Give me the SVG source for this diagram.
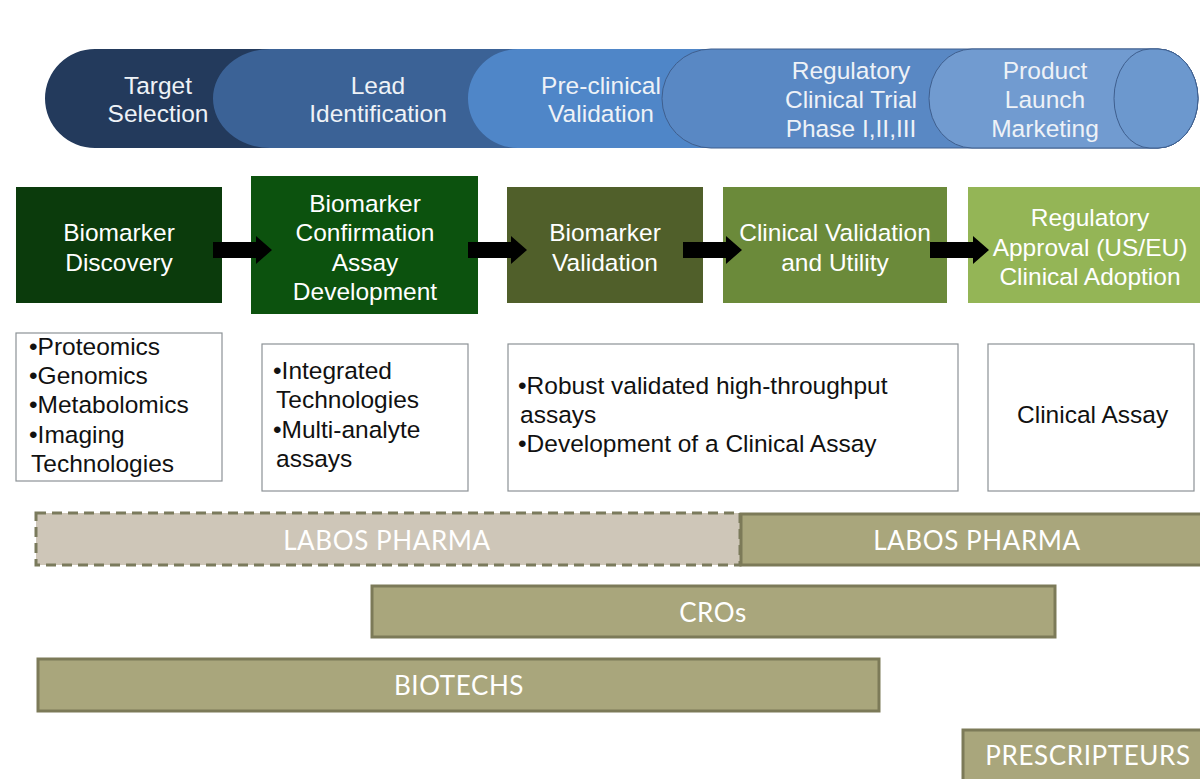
<svg xmlns="http://www.w3.org/2000/svg" width="1200" height="779" viewBox="0 0 1200 779">
<style>
.bt{font-family:"Liberation Sans",Arial,sans-serif;font-size:24.5px;fill:#eef2f7;text-anchor:middle}
.gt{font-family:"Liberation Sans",Arial,sans-serif;font-size:24.5px;fill:#ffffff;text-anchor:middle}
.kt{font-family:"Liberation Sans",Arial,sans-serif;font-size:24.5px;fill:#111111}
.box{fill:#ffffff;stroke:#8c9296;stroke-width:1.2}
.bar{fill:#a9a67c;stroke:#7c7a58;stroke-width:3}
.lt{font-family:"Lato","Open Sans",sans-serif;font-size:26px;font-weight:400;letter-spacing:0.6px;fill:#ffffff;text-anchor:middle}
.arr{fill:#000000}
.ol{stroke:#3f5f8e;stroke-width:1}
</style>
<rect width="1200" height="779" fill="#ffffff"/>
<g id="banner">
  <g id="phase-target"><path d="M95,49 H1158 A40,49.5 0 0 1 1158,148 H95 A50,49.5 0 0 1 95,49 Z" fill="#233a5c"/><text class="bt" x="158" y="94">Target</text><text class="bt" x="158" y="122">Selection</text></g>
  <g id="phase-lead"><path d="M270,49 H1158 A40,49.5 0 0 1 1158,148 H270 A57,49.5 0 0 1 270,49 Z" fill="#3b6296"/><text class="bt" x="378" y="94">Lead</text><text class="bt" x="378" y="122">Identification</text></g>
  <g id="phase-preclinical"><path d="M518,49 H1158 A40,49.5 0 0 1 1158,148 H518 A50,49.5 0 0 1 518,49 Z" fill="#4f86c8"/><text class="bt" x="601" y="94">Pre-clinical</text><text class="bt" x="601" y="122">Validation</text></g>
  <g id="phase-regulatory"><path class="ol" d="M711,49 H1158 A40,49.5 0 0 1 1158,148 H711 A49,49.5 0 0 1 711,49 Z" fill="#5988c4"/><text class="bt" x="851" y="79">Regulatory</text><text class="bt" x="851" y="108">Clinical Trial</text><text class="bt" x="851" y="137">Phase I,II,III</text></g>
  <g id="phase-launch"><path class="ol" d="M972,49 H1158 A40,49.5 0 0 1 1158,148 H972 A43,49.5 0 0 1 972,49 Z" fill="#719bd0"/><text class="bt" x="1045" y="79">Product</text><text class="bt" x="1045" y="108">Launch</text><text class="bt" x="1045" y="137">Marketing</text></g>
  <g id="phase-end"><path class="ol" d="M1150,49 H1158 A40,49.5 0 0 1 1158,148 H1150 A36,49.5 0 0 1 1150,49 Z" fill="#6c98ce"/></g>
</g>
<g id="stages">
  <g id="stage-discovery"><rect x="16" y="187" width="206" height="116" fill="#0b3b0c"/><text class="gt" x="119" y="241">Biomarker</text><text class="gt" x="119" y="271">Discovery</text></g>
  <g id="stage-confirmation"><rect x="251" y="176" width="227" height="138" fill="#0c520e"/><text class="gt" x="365" y="212">Biomarker</text><text class="gt" x="365" y="241">Confirmation</text><text class="gt" x="365" y="271">Assay</text><text class="gt" x="365" y="300">Development</text></g>
  <g id="stage-validation"><rect x="507" y="187" width="196" height="116" fill="#505f2a"/><text class="gt" x="605" y="241">Biomarker</text><text class="gt" x="605" y="271">Validation</text></g>
  <g id="stage-clinical"><rect x="723" y="187" width="224" height="116" fill="#6b8a3a"/><text class="gt" x="835" y="241">Clinical Validation</text><text class="gt" x="835" y="271">and Utility</text></g>
  <g id="stage-regulatory"><rect x="968" y="187" width="232" height="116" fill="#94b556"/><text class="gt" x="1090" y="226">Regulatory</text><text class="gt" x="1090" y="256">Approval (US/EU)</text><text class="gt" x="1090" y="285">Clinical Adoption</text></g>
</g>
<g id="connectors">
  <path class="arr" d="M213,242 H256 V236 L272,250 L256,264 V258 H213 Z"/>
  <path class="arr" d="M468,242 H511 V236 L527,250 L511,264 V258 H468 Z"/>
  <path class="arr" d="M683,242 H726 V236 L742,250 L726,264 V258 H683 Z"/>
  <path class="arr" d="M930,242 H973 V236 L989,250 L973,264 V258 H930 Z"/>
</g>
<g id="notes">
  <g id="note-discovery"><rect class="box" x="16" y="333" width="206" height="148"/>
    <text class="kt" x="29" y="355">•Proteomics</text><text class="kt" x="29" y="384">•Genomics</text><text class="kt" x="29" y="413">•Metabolomics</text><text class="kt" x="29" y="443">•Imaging</text><text class="kt" x="31" y="472">Technologies</text></g>
  <g id="note-confirmation"><rect class="box" x="262" y="344" width="206" height="147"/>
    <text class="kt" x="273" y="379">•Integrated</text><text class="kt" x="276" y="408">Technologies</text><text class="kt" x="273" y="438">•Multi-analyte</text><text class="kt" x="276" y="467">assays</text></g>
  <g id="note-validation"><rect class="box" x="508" y="344" width="450" height="147"/>
    <text class="kt" x="518" y="394">•Robust validated high-throughput</text><text class="kt" x="520" y="423">assays</text><text class="kt" x="518" y="452">•Development of a Clinical Assay</text></g>
  <g id="note-clinical"><rect class="box" x="988" y="344" width="206" height="147"/>
    <text class="kt" x="1017" y="423">Clinical Assay</text></g>
</g>
<g id="actors">
  <g id="actor-pharma-early"><rect x="36" y="513" width="704" height="52" fill="#cec6b8" stroke="#7a7a5c" stroke-width="3" stroke-dasharray="10,6"/><text class="lt" x="387" y="550">LABOS PHARMA</text></g>
  <g id="actor-pharma"><rect class="bar" x="741" y="514" width="462" height="51"/><text class="lt" x="977" y="550">LABOS PHARMA</text></g>
  <g id="actor-cros"><rect class="bar" x="372" y="586" width="683" height="51"/><text class="lt" x="713" y="622">CROs</text></g>
  <g id="actor-biotechs"><rect class="bar" x="38" y="659" width="841" height="52"/><text class="lt" x="459" y="695">BIOTECHS</text></g>
  <g id="actor-prescripteurs"><rect class="bar" x="963" y="730" width="240" height="52"/><text class="lt" x="1088" y="765">PRESCRIPTEURS</text></g>
</g>
</svg>
